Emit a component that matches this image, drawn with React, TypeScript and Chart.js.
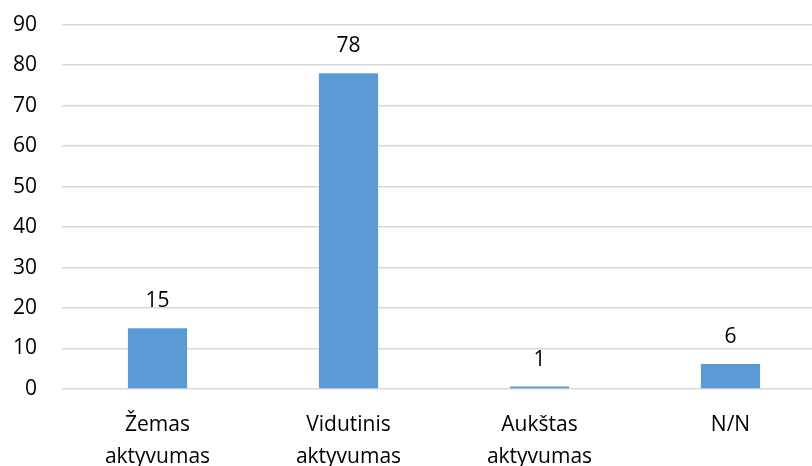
import React, { useEffect, useRef } from "react";
import { Chart, registerables } from "chart.js";

Chart.register(...registerables);

const categories: string[][] = [
  ["Žemas", "aktyvumas"],
  ["Vidutinis", "aktyvumas"],
  ["Aukštas", "aktyvumas"],
  ["N/N"],
];
const values: number[] = [15, 78, 0.6, 6.2];
const valueLabels: string[] = ["15", "78", "1", "6"];
const yTicks: number[] = [0, 10, 20, 30, 40, 50, 60, 70, 80, 90];

const FONT = "'Open Sans', 'Liberation Sans', sans-serif";
const SIZE = 21;

const dataLabelPlugin = {
  id: "dataLabels",
  afterDatasetsDraw(chart: any) {
    const ctx = chart.ctx;
    const meta = chart.getDatasetMeta(0);
    ctx.save();
    ctx.font = `${SIZE}px ${FONT}`;
    ctx.fillStyle = "#000";
    ctx.textAlign = "center";
    ctx.textBaseline = "middle";
    meta.data.forEach((bar: any, i: number) => {
      ctx.fillText(valueLabels[i], bar.x, bar.y - 27);
    });
    ctx.restore();
  },
};

export default function App() {
  const ref = useRef<HTMLCanvasElement>(null);
  useEffect(() => {
    if (!ref.current) return;
    const chart = new Chart(ref.current, {
      type: "bar",
      data: {
        labels: categories,
        datasets: [
          {
            data: values,
            backgroundColor: "#5B9BD5",
            categoryPercentage: 1,
            barPercentage: 0.31,
          },
        ],
      },
      options: {
        responsive: false,
        animation: false,
        layout: { padding: { top: 11, right: 0, left: 0, bottom: 0 } },
        plugins: {
          legend: { display: false },
          tooltip: { enabled: false },
        },
        scales: {
          x: {
            grid: { display: false, drawTicks: false },
            border: { display: false },
            ticks: {
              color: "#000",
              font: { family: FONT, size: SIZE, lineHeight: 1.52 },
              padding: 20,
              maxRotation: 0,
              autoSkip: false,
            },
            afterFit: (s: any) => {
              s.height = 86;
            },
          },
          y: {
            min: 0,
            max: 90,
            afterBuildTicks: (s: any) => {
              s.ticks = yTicks.map((v) => ({ value: v }));
            },
            grid: { color: "#d9d9d9", lineWidth: 1.5, drawTicks: false },
            border: { display: false },
            ticks: {
              color: "#000",
              font: { family: FONT, size: SIZE },
              padding: 25,
            },
            afterFit: (s: any) => {
              s.width = 62;
            },
          },
        },
      },
      plugins: [dataLabelPlugin],
    });
    return () => chart.destroy();
  }, []);
  return (
    <div
      style={{
        position: "absolute",
        left: 0,
        top: 0,
        width: 812,
        height: 466,
        overflow: "hidden",
        background: "#fff",
      }}
    >
      <canvas
        ref={ref}
        width={826}
        height={488}
        style={{ display: "block", marginTop: -13 }}
      />
    </div>
  );
}
